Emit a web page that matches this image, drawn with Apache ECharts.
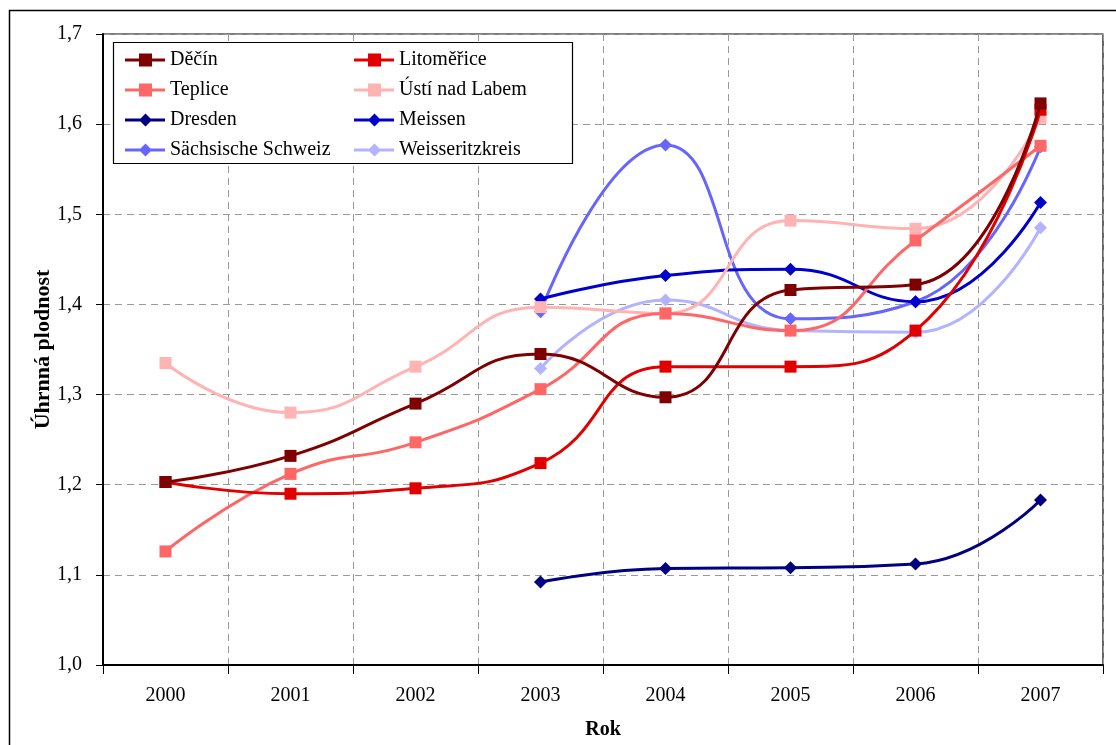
<!DOCTYPE html>
<html><head><meta charset="utf-8">
<script src="https://cdn.jsdelivr.net/npm/echarts@6/dist/echarts.min.js"></script>
<style>html,body{margin:0;padding:0;background:#fff}#c{width:1116px;height:745px}</style>
</head><body><div id="c"></div>
<script>
const years = ['2000','2001','2002','2003','2004','2005','2006','2007'];
const yTicks = ['1,0','1,1','1,2','1,3','1,4','1,5','1,6','1,7'];
const decin      = [1.203,1.232,1.290,1.345,1.297,1.416,1.422,1.623];
const litomerice = [1.203,1.190,1.196,1.224,1.331,1.331,1.371,1.616];
const teplice    = [1.126,1.212,1.247,1.306,1.390,1.371,1.471,1.576];
const usti       = [1.335,1.280,1.331,1.397,1.390,1.493,1.484,1.607];
const dresden    = [null,null,null,1.092,1.107,1.108,1.112,1.183];
const meissen    = [null,null,null,1.406,1.432,1.439,1.403,1.513];
const schweiz    = [null,null,null,1.392,1.577,1.384,1.403,1.575];
const weisseritz = [null,null,null,1.329,1.405,1.371,1.369,1.485];
const names = ['Děčín','Litoměřice','Teplice','Ústí nad Labem','Dresden','Meissen','Sächsische Schweiz','Weisseritzkreis'];
const colors = ['#7f0000','#e00000','#ff6666','#ffb3b3','#000080','#0000cc','#6666ff','#b3b3ff'];
const dataSets = [decin,litomerice,teplice,usti,dresden,meissen,schweiz,weisseritz];
const font = '"Liberation Serif","Times New Roman",serif';
const sqIcon = 'path://M0,5H40V8H0Z M14,0H27V13H14Z';
const dmIcon = 'path://M0,5H40V8H0Z M20.5,0L27,6.5L20.5,13L14,6.5Z';

const series = dataSets.map((d,i)=>({
  name: names[i], type:'line', data:d, smooth:0.5, connectNulls:false,
  symbol: i<4 ? 'rect' : 'diamond', symbolSize: i<4 ? 12 : 13,
  lineStyle:{color:colors[i], width:3}, itemStyle:{color:colors[i]},
  z: 10-i
}));

const legendBase = {
  orient:'vertical', top:44, itemGap:8, itemWidth:40, itemHeight:13, z:60,
  textStyle:{fontFamily:font, fontSize:20, color:'#000', lineHeight:22, padding:[0,0,0,0]}
};

const chart = echarts.init(document.getElementById('c'));
chart.setOption({
  animation:false,
  backgroundColor:'#fff',
  graphic:[{type:'rect', shape:{x:9.5,y:10.5,width:1200,height:800}, style:{fill:null, stroke:'#000', lineWidth:1.5}, z:-1},
           {type:'rect', shape:{x:113.5,y:42.5,width:459,height:121}, style:{fill:'#fff', stroke:'#000', lineWidth:1.2}, z:50}],
  grid:{left:103, right:13, top:34, bottom:80, outerBoundsMode:'none', containLabel:false,
        show:true, borderColor:'#000', borderWidth:1.2, backgroundColor:'#fff'},
  legend:[
    Object.assign({left:120, data:[0,2,4,6].map(i=>({name:names[i], icon: i<4?sqIcon:dmIcon}))}, legendBase),
    Object.assign({left:349, data:[1,3,5,7].map(i=>({name:names[i], icon: i<4?sqIcon:dmIcon}))}, legendBase)
  ],
  xAxis:{
    type:'category', data:years, boundaryGap:true,
    name:'Rok', nameLocation:'middle', nameGap:55, nameMoveOverlap:false,
    nameTextStyle:{fontFamily:font, fontSize:20, fontWeight:'bold', color:'#000'},
    axisLine:{lineStyle:{color:'#000', width:2}},
    axisTick:{show:true, length:9, alignWithLabel:false, lineStyle:{color:'#000', width:1}},
    axisLabel:{fontFamily:font, fontSize:20, color:'#000', margin:21},
    splitLine:{show:true, lineStyle:{color:'#999', type:[7,5], width:1}}
  },
  yAxis:{
    type:'value', min:1.0, max:1.7, interval:0.1,
    name:'Úhrnná plodnost', nameLocation:'middle', nameGap:49, nameRotate:90, nameMoveOverlap:false,
    nameTextStyle:{fontFamily:font, fontSize:22, fontWeight:'bold', color:'#000'},
    axisLine:{show:true, lineStyle:{color:'#000', width:2}},
    axisTick:{show:true, length:7, lineStyle:{color:'#000', width:1}},
    axisLabel:{fontFamily:font, fontSize:20, color:'#000', margin:21,
      formatter:v=>yTicks[Math.round((v-1)*10)]},
    splitLine:{show:true, lineStyle:{color:'#999', type:[7,5], width:1}}
  },
  series: series
});
</script></body></html>
